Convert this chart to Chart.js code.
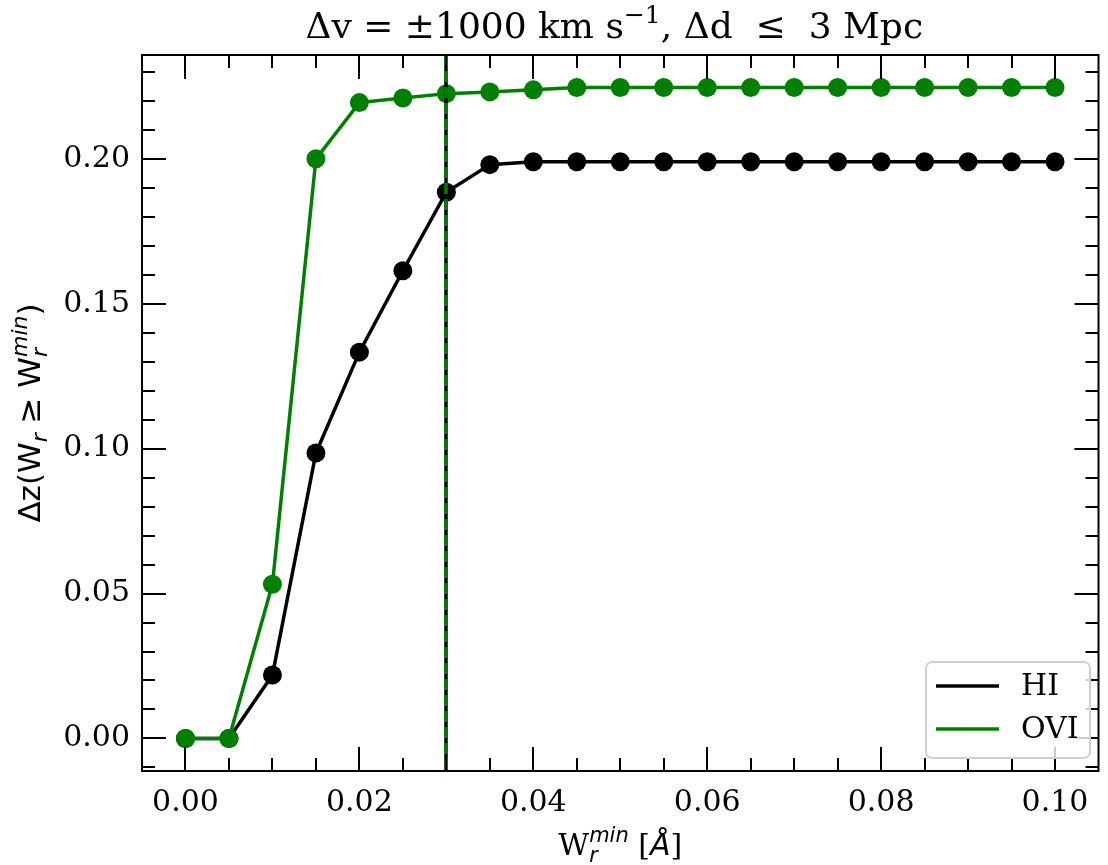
<!DOCTYPE html>
<html>
<head>
<meta charset="utf-8">
<script src="https://cdn.jsdelivr.net/npm/chart.js@4"></script>
<style>
  body { margin: 0; background: #fff; }
  #wrap { width: 1108px; height: 865px; position: relative; }
</style>
</head>
<body>
<div id="wrap"><canvas id="chart"></canvas></div>
<script>
// equivalent-width threshold (Angstrom)
const wMin = [0.000, 0.005, 0.010, 0.015, 0.020, 0.025, 0.030, 0.035, 0.040, 0.045, 0.050,
              0.055, 0.060, 0.065, 0.070, 0.075, 0.080, 0.085, 0.090, 0.095, 0.100];
const dzHI = [0.0000, 0.0000, 0.0219, 0.0985, 0.1333, 0.1614, 0.1885, 0.1980, 0.1990, 0.1990, 0.1990,
              0.1990, 0.1990, 0.1990, 0.1990, 0.1990, 0.1990, 0.1990, 0.1990, 0.1990, 0.1990];
const dzOVI = [0.0000, 0.0000, 0.0532, 0.2000, 0.2194, 0.2210, 0.2225, 0.2231, 0.2238, 0.2246, 0.2246,
               0.2246, 0.2246, 0.2246, 0.2246, 0.2246, 0.2246, 0.2246, 0.2246, 0.2246, 0.2246];
const wCut = 0.03;

const xMajor = [0.00, 0.02, 0.04, 0.06, 0.08, 0.10];
const xMinor = [0.005, 0.01, 0.015, 0.025, 0.03, 0.035, 0.045, 0.05, 0.055, 0.065, 0.07, 0.075, 0.085, 0.09, 0.095];
const yMajor = [0.00, 0.05, 0.10, 0.15, 0.20];
const yMinor = [-0.01, 0.01, 0.02, 0.03, 0.04, 0.06, 0.07, 0.08, 0.09, 0.11, 0.12, 0.13, 0.14,
                0.16, 0.17, 0.18, 0.19, 0.21, 0.22, 0.23];

const SERIF = '"DejaVu Serif", serif';
const SANS = '"DejaVu Sans", sans-serif';
const GREEN = '#008000';

const toPoints = (ys) => wMin.map((x, i) => ({ x: x, y: ys[i] }));

// text runs [{t, font, dy, adv}] laid out left to right on one baseline
function richWidth(ctx, runs) {
  let w = 0;
  runs.forEach(r => { ctx.font = r.font; w += r.adv !== undefined ? r.adv : ctx.measureText(r.t).width; });
  return w;
}
function drawRich(ctx, runs, x, y) {
  let cx = x;
  runs.forEach(r => {
    ctx.font = r.font;
    ctx.fillText(r.t, cx, y + (r.dy || 0));
    cx += r.adv !== undefined ? r.adv : ctx.measureText(r.t).width;
  });
}

const decorations = {
  id: 'decorations',
  afterDatasetsDraw(chart) {
    const ctx = chart.ctx;
    const xs = chart.scales.x, ys = chart.scales.y;
    const a = chart.chartArea;

    // vertical marker line at the adopted threshold
    const vx = Math.round(xs.getPixelForValue(wCut));
    ctx.save();
    ctx.lineWidth = 3.5;
    ctx.strokeStyle = '#000';
    ctx.beginPath(); ctx.moveTo(vx, a.top); ctx.lineTo(vx, a.bottom); ctx.stroke();
    ctx.strokeStyle = GREEN;
    ctx.setLineDash([11, 5]);
    ctx.beginPath(); ctx.moveTo(vx, a.top); ctx.lineTo(vx, a.bottom); ctx.stroke();
    ctx.restore();

    // inward ticks on all four sides
    ctx.save();
    ctx.strokeStyle = '#000';
    ctx.lineWidth = 2;
    const tickX = (v, len) => {
      const p = Math.round(xs.getPixelForValue(v));
      ctx.beginPath();
      ctx.moveTo(p, a.bottom); ctx.lineTo(p, a.bottom - len);
      ctx.moveTo(p, a.top); ctx.lineTo(p, a.top + len);
      ctx.stroke();
    };
    const tickY = (v, len) => {
      const p = Math.round(ys.getPixelForValue(v));
      ctx.beginPath();
      ctx.moveTo(a.left, p); ctx.lineTo(a.left + len, p);
      ctx.moveTo(a.right, p); ctx.lineTo(a.right - len, p);
      ctx.stroke();
    };
    xMajor.forEach(v => tickX(v, 24));
    xMinor.forEach(v => tickX(v, 13));
    yMajor.forEach(v => tickY(v, 24));
    yMinor.forEach(v => tickY(v, 13));
    // frame
    ctx.strokeRect(a.left, a.top, a.right - a.left, a.bottom - a.top);
    ctx.restore();

    // legend, lower right
    ctx.save();
    const lx = 926, ly = 662, lw = 164, lh = 96;
    ctx.fillStyle = 'rgba(255,255,255,0.8)';
    ctx.strokeStyle = '#d0d0d0';
    ctx.lineWidth = 2;
    ctx.beginPath();
    ctx.roundRect(lx, ly, lw, lh, 6);
    ctx.fill(); ctx.stroke();
    const rows = [{ label: 'HI', color: '#000' }, { label: 'OVI', color: GREEN }];
    ctx.font = '30px ' + SERIF;
    ctx.textBaseline = 'middle';
    rows.forEach((r, i) => {
      const ry = 686 + i * 43;
      ctx.strokeStyle = r.color;
      ctx.lineWidth = 3.5;
      ctx.beginPath(); ctx.moveTo(936, ry); ctx.lineTo(999, ry); ctx.stroke();
      ctx.fillStyle = '#000';
      ctx.fillText(r.label, 1021, ry + 1);
    });
    ctx.restore();
  },
  afterDraw(chart) {
    const ctx = chart.ctx;
    const a = chart.chartArea;
    const cx = (a.left + a.right) / 2;
    ctx.save();
    ctx.fillStyle = '#000';
    ctx.textBaseline = 'alphabetic';
    ctx.textAlign = 'left';

    // title
    const tf = '36px ' + SERIF, tfs = '25px ' + SERIF;
    const title = [
      { t: 'Δv = ±1000 km s', font: tf },
      { t: '−1', font: tfs, dy: -15 },
      { t: ', Δd  ≤  3 Mpc', font: tf }
    ];
    drawRich(ctx, title, cx - 6 - richWidth(ctx, title) / 2, 38);

    // x label: W_r^min [Å]
    const big = '30px ' + SERIF, sub = 'italic 21px ' + SANS, ang = 'italic 30px ' + SANS;
    ctx.font = sub;
    const wr = ctx.measureText('r').width, wm = ctx.measureText('min').width;
    const xl = [
      { t: 'W', font: big },
      { t: 'r', font: sub, dy: 7, adv: 0 },
      { t: 'min', font: sub, dy: -13, adv: Math.max(wr, wm) },
      { t: ' [', font: big },
      { t: 'Å', font: ang },
      { t: ']', font: big }
    ];
    drawRich(ctx, xl, cx - richWidth(ctx, xl) / 2, 855);

    // y label: Δz(W_r ≥ W_r^min), rotated
    const sf = '31px ' + SANS, ssub = 'italic 22px ' + SANS;
    ctx.font = ssub;
    const wr2 = ctx.measureText('r').width, wm2 = ctx.measureText('min').width;
    const yl = [
      { t: 'Δz(W', font: sf },
      { t: 'r', font: ssub, dy: 7 },
      { t: ' ≥ W', font: sf },
      { t: 'r', font: ssub, dy: 7, adv: 0 },
      { t: 'min', font: ssub, dy: -13, adv: Math.max(wr2, wm2) },
      { t: ')', font: sf }
    ];
    ctx.translate(40, (a.top + a.bottom) / 2);
    ctx.rotate(-Math.PI / 2);
    drawRich(ctx, yl, -richWidth(ctx, yl) / 2, 0);
    ctx.restore();
  }
};

new Chart(document.getElementById('chart'), {
  type: 'line',
  data: {
    datasets: [
      {
        label: 'HI',
        data: toPoints(dzHI),
        borderColor: '#000',
        backgroundColor: '#000',
        borderWidth: 3.5,
        pointRadius: 9.5,
        pointBorderWidth: 0,
        pointHoverRadius: 9.5,
        tension: 0,
        order: 2
      },
      {
        label: 'OVI',
        data: toPoints(dzOVI),
        borderColor: GREEN,
        backgroundColor: GREEN,
        borderWidth: 3.5,
        pointRadius: 9.5,
        pointBorderWidth: 0,
        pointHoverRadius: 9.5,
        tension: 0,
        order: 1
      }
    ]
  },
  options: {
    responsive: true,
    maintainAspectRatio: false,
    animation: false,
    events: [],
    layout: { padding: { top: 55, right: 3, left: 0, bottom: 0 } },
    plugins: {
      legend: { display: false },
      title: { display: false },
      tooltip: { enabled: false }
    },
    scales: {
      x: {
        type: 'linear',
        min: -0.005,
        max: 0.105,
        grid: { display: false, drawTicks: false },
        border: { display: false },
        ticks: {
          stepSize: 0.02,
          includeBounds: false,
          padding: 14,
          color: '#000',
          font: { family: SERIF, size: 30 },
          callback: v => v.toFixed(2)
        },
        afterFit: s => { s.height = 94; s.paddingLeft = 0; s.paddingRight = 0; }
      },
      y: {
        min: -0.01123,
        max: 0.23583,
        grid: { display: false, drawTicks: false },
        border: { display: false },
        ticks: {
          stepSize: 0.05,
          includeBounds: false,
          padding: 12,
          color: '#000',
          font: { family: SERIF, size: 30 },
          callback: v => v.toFixed(2)
        },
        afterFit: s => { s.width = 142; }
      }
    }
  },
  plugins: [decorations]
});
</script>
</body>
</html>
